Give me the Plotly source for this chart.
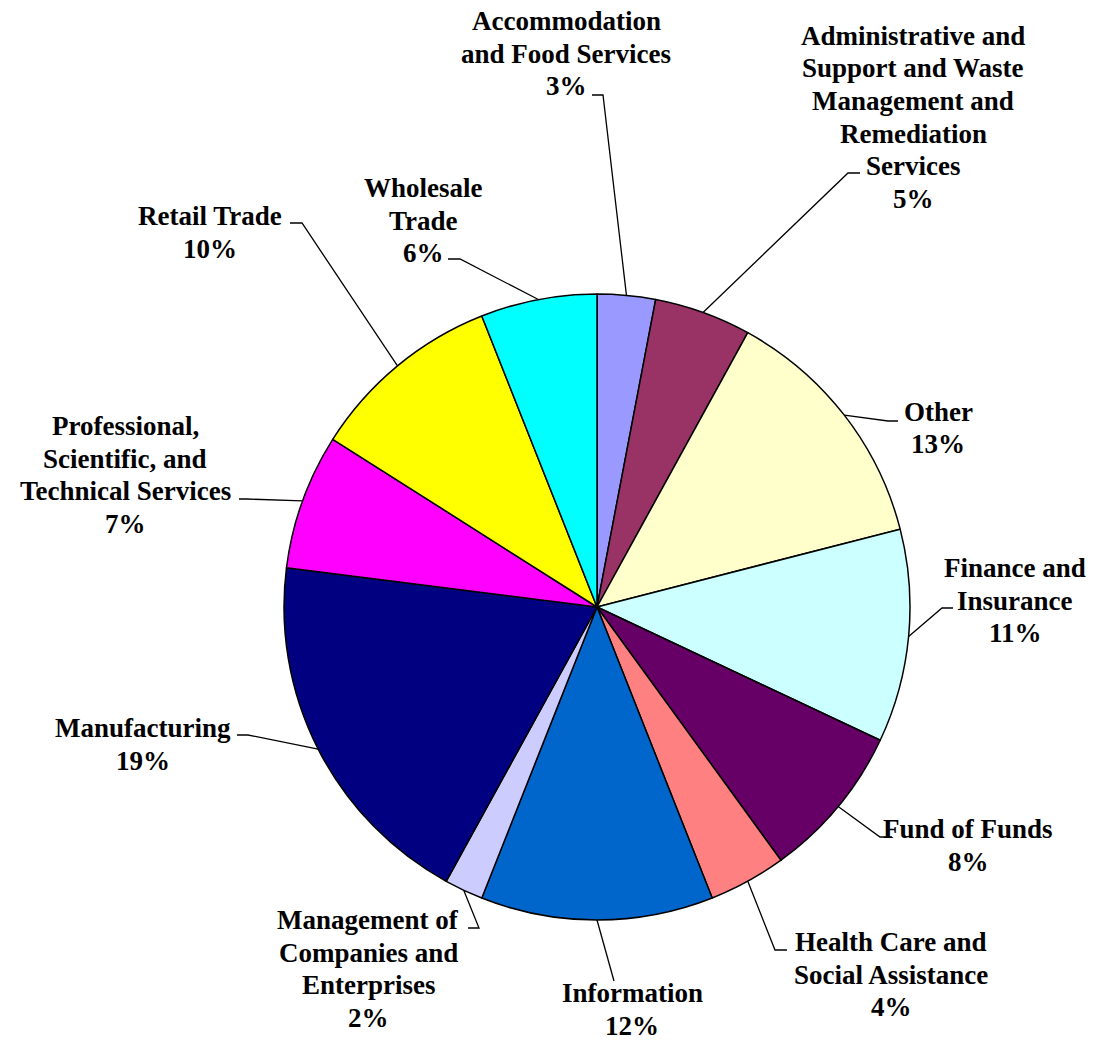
import math
import plotly.graph_objects as go

# Industry shares (percent), clockwise from 12 o'clock
industries = [
    "Accommodation and Food Services",
    "Administrative and Support and Waste Management and Remediation Services",
    "Other",
    "Finance and Insurance",
    "Fund of Funds",
    "Health Care and Social Assistance",
    "Information",
    "Management of Companies and Enterprises",
    "Manufacturing",
    "Professional, Scientific, and Technical Services",
    "Retail Trade",
    "Wholesale Trade",
]
shares = [3, 5, 13, 11, 8, 4, 12, 2, 19, 7, 10, 6]
slice_colors = [
    "#9999FF", "#993366", "#FFFFCC", "#CCFFFF", "#660066", "#FF8080",
    "#0066CC", "#CCCCFF", "#000080", "#FF00FF", "#FFFF00", "#00FFFF",
]

# How each label is broken into lines
label_lines = [
    ["Accommodation", "and Food Services"],
    ["Administrative and", "Support and Waste", "Management and", "Remediation", "Services"],
    ["Other"],
    ["Finance and", "Insurance"],
    ["Fund of Funds"],
    ["Health Care and", "Social Assistance"],
    ["Information"],
    ["Management of", "Companies and", "Enterprises"],
    ["Manufacturing"],
    ["Professional,", "Scientific, and", "Technical Services"],
    ["Retail Trade"],
    ["Wholesale", "Trade"],
]

W, H = 1093, 1040
CX, CY, R = 597, 607, 313          # pie centre and radius (px)
LINE_STEP = 32.5                    # label line spacing (px)

# Label block placement: centre x, first line y (px)
label_pos = [
    (566, 21), (913, 36), (938, 412), (1015, 568), (968, 829), (891, 942),
    (632, 993), (368, 920), (143, 728), (125, 426), (210, 216), (423, 188),
]
# Leader lines: elbow point and end point next to the label (px)
leader_pts = [
    ((603, 95), (592, 95)),
    ((848, 173), (860, 173)),
    ((888, 421), (898, 421)),
    ((942, 608), (953, 608)),
    ((880, 837), (892, 837)),
    ((775, 950), (787, 950)),
    ((614, 981), (614, 981)),
    ((479, 928), (468, 928)),
    ((248, 735), (237, 735)),
    ((247, 499), (239, 499)),
    ((302, 223), (290, 223)),
    ((460, 259), (448, 259)),
]


def px(x):
    return x / W


def py(y):
    return 1 - y / H


fig = go.Figure(
    go.Pie(
        labels=industries,
        values=shares,
        marker=dict(colors=slice_colors, line=dict(color="black", width=1.5)),
        sort=False,
        direction="clockwise",
        rotation=0,
        textinfo="none",
        hoverinfo="skip",
        showlegend=False,
        domain=dict(x=[px(CX - R), px(CX + R)], y=[py(CY + R), py(CY - R)]),
    )
)

font = dict(family="Liberation Serif", size=27, color="black", weight="bold")
total = sum(shares)
annotations = []
shapes = []
cum = 0
for name, val, lines, (lx, ly), (elbow, end) in zip(
    industries, shares, label_lines, label_pos, leader_pts
):
    mid = 2 * math.pi * (cum + val / 2) / total
    cum += val
    ex = CX + R * math.sin(mid)
    ey = CY - R * math.cos(mid)
    pct = f"{round(100 * val / total)}%"
    for i, text in enumerate(lines + [pct]):
        annotations.append(
            dict(
                x=px(lx), y=py(ly + i * LINE_STEP), xref="paper", yref="paper",
                text=text, showarrow=False, xanchor="center", yanchor="middle",
                font=font,
            )
        )
    path = (
        f"M {px(ex)} {py(ey)} L {px(elbow[0])} {py(elbow[1])} "
        f"L {px(end[0])} {py(end[1])}"
    )
    shapes.append(
        dict(type="path", path=path, xref="paper", yref="paper",
             line=dict(color="black", width=1.3))
    )

fig.update_layout(
    width=W, height=H,
    margin=dict(l=0, r=0, t=0, b=0),
    paper_bgcolor="white", plot_bgcolor="white",
    annotations=annotations, shapes=shapes,
)

fig.write_html("out.html")
